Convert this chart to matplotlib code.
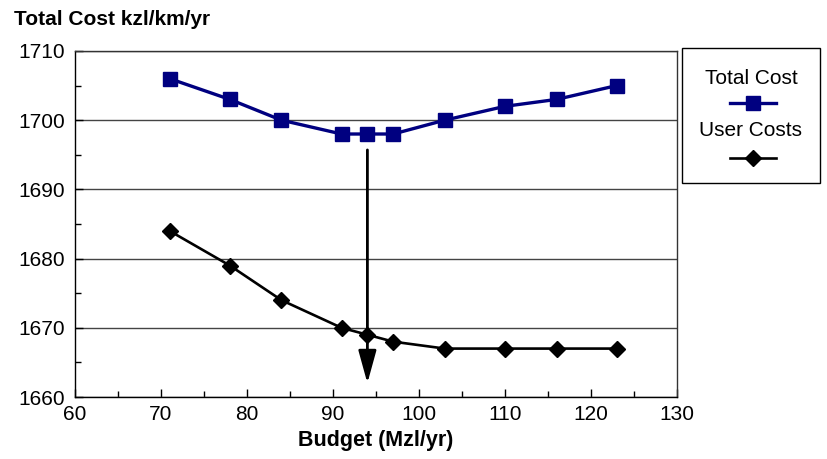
import matplotlib
matplotlib.use("Agg")
import matplotlib.pyplot as plt
from matplotlib.lines import Line2D
from matplotlib.patches import Rectangle
from matplotlib.ticker import MultipleLocator

plt.rcParams['font.family'] = ['Liberation Sans', 'DejaVu Sans']

budget = [71, 78, 84, 91, 94, 97, 103, 110, 116, 123]
total_cost = [1706, 1703, 1700, 1698, 1698, 1698, 1700, 1702, 1703, 1705]
user_costs = [1684, 1679, 1674, 1670, 1669, 1668, 1667, 1667, 1667, 1667]
arrow_x = 94
arrow_top = 1695.7
arrow_tip = 1662.0

fig = plt.figure(figsize=(8.28, 4.59), dpi=100)
ax = fig.add_axes([0.0906, 0.135, 0.727, 0.754])

ax.set_xlim(60, 130)
ax.set_ylim(1660, 1710)
ax.xaxis.set_major_locator(MultipleLocator(10))
ax.xaxis.set_minor_locator(MultipleLocator(5))
ax.yaxis.set_major_locator(MultipleLocator(10))
ax.yaxis.set_minor_locator(MultipleLocator(5))
ax.tick_params(which='both', direction='in', labelsize=15, color='black')
ax.tick_params(which='major', length=6, width=1)
ax.tick_params(which='minor', length=4, width=1)
ax.tick_params(axis='x', pad=6)
ax.tick_params(axis='y', pad=7)
ax.grid(axis='y', which='major', color='#444444', linewidth=1)
for s in ax.spines.values():
    s.set_color('#333333')
    s.set_linewidth(1)
ax.spines['left'].set_color('black')
ax.spines['bottom'].set_color('black')

ax.plot(budget, total_cost, color='#000080', linewidth=2.4, marker='s',
        markersize=10, markerfacecolor='#000080', markeredgecolor='#000080', zorder=3)
ax.plot(budget, user_costs, color='black', linewidth=1.9, marker='D',
        markersize=8.5, markerfacecolor='black', zorder=3)

ax.annotate('', xy=(arrow_x, arrow_tip), xytext=(arrow_x, arrow_top),
            arrowprops=dict(arrowstyle='-|>,head_length=2.0,head_width=0.55',
                            color='black', linewidth=2, shrinkA=0, shrinkB=0),
            zorder=4)

fig.text(0.017, 0.958, 'Total Cost kzl/km/yr', fontsize=15, fontweight='bold',
         ha='left', va='center')
ax.set_xlabel('Budget (Mzl/yr)', fontsize=15.5, fontweight='bold', labelpad=4)

# legend box
W, H = 828, 459
def fx(px): return px / W
def fy(py): return 1 - py / H
fig.patches.append(Rectangle((fx(682), fy(183)), fx(820) - fx(682), fy(48) - fy(183),
                             transform=fig.transFigure, facecolor='white',
                             edgecolor='black', linewidth=1))
fig.text(fx(751), fy(78), 'Total Cost', fontsize=15, ha='center', va='center')
fig.lines.append(Line2D([fx(730), fx(776)], [fy(103), fy(103)], transform=fig.transFigure,
                        color='#000080', linewidth=2.4))
fig.lines.append(Line2D([fx(753)], [fy(103)], transform=fig.transFigure,
                        color='#000080', marker='s', markersize=10, linestyle='none'))
fig.text(fx(751), fy(131), 'User Costs', fontsize=15, ha='center', va='center')
fig.lines.append(Line2D([fx(730), fx(776)], [fy(158), fy(158)], transform=fig.transFigure,
                        color='black', linewidth=1.9))
fig.lines.append(Line2D([fx(753)], [fy(158)], transform=fig.transFigure,
                        color='black', marker='D', markersize=8.5, linestyle='none'))

fig.savefig('out.png', dpi=100)
